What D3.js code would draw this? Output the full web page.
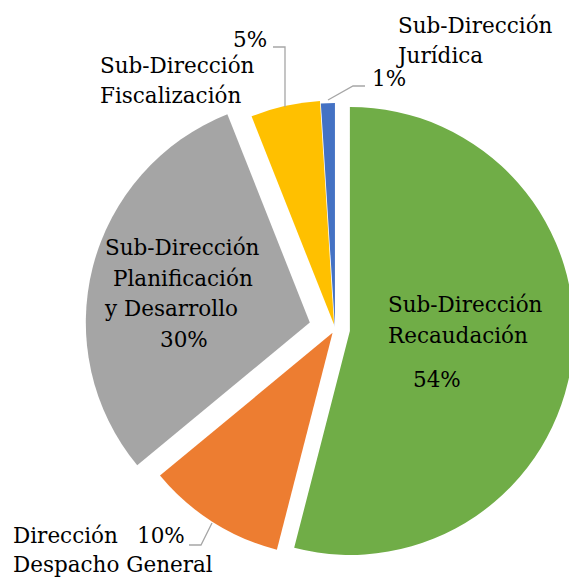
<!DOCTYPE html>
<html>
<head>
<meta charset="utf-8">
<script src="https://cdn.jsdelivr.net/npm/d3@7"></script>
<style>
  html, body { margin: 0; padding: 0; background: #fff; }
  svg { display: block; }
</style>
</head>
<body>
<div id="chart"></div>
<script>
// ---- data ----
const nameLines = [
  ["Sub-Dirección", "Recaudación"],
  ["Dirección", "Despacho General"],
  ["Sub-Dirección", "Planificación", "y Desarrollo"],
  ["Sub-Dirección", "Fiscalización"],
  ["Sub-Dirección", "Jurídica"]
];
const categories = nameLines.map(l => l.join(" "));
const values = [54, 10, 30, 5, 1];

// ---- styling / layout ----
const colors = ["#70AD47", "#ED7D31", "#A5A5A5", "#FFC000", "#4472C4"];
const explode = [15, 4.5, 26, 4.5, 2];
const labelLayout = [
  { lines: [[388, 312], [388, 343]], pct: [413, 387], leader: null },
  { lines: [[13, 543], [13, 572]], pct: [137, 543], leader: [[189, 545], [201, 545], [212, 523]] },
  { lines: [[105, 255], [113, 286], [105, 316]], pct: [160, 347], leader: null },
  { lines: [[100, 73], [100, 103]], pct: [233, 47], leader: [[273, 47], [285, 47], [285, 107]] },
  { lines: [[398, 33], [398, 63]], pct: [372, 86], leader: [[328, 100], [353, 86], [365, 86]] }
];
const FONT = "DejaVu Serif";

const W = 569, H = 580;
const cx = 335, cy = 329, R = 224;

const svg = d3.select("#chart").append("svg").attr("width", W).attr("height", H);

const data = categories.map((c, i) => ({ name: c, value: values[i], i }));
const pie = d3.pie().sort(null).value(d => d.value);
const arc = d3.arc().innerRadius(0).outerRadius(R);

const g = svg.append("g").attr("transform", `translate(${cx},${cy})`);
g.selectAll("path.slice")
  .data(pie(data))
  .join("path")
  .attr("class", "slice")
  .attr("fill", d => colors[d.data.i])
  .attr("transform", d => {
    const mid = (d.startAngle + d.endAngle) / 2;
    const e = explode[d.data.i];
    return `translate(${Math.sin(mid) * e},${-Math.cos(mid) * e})`;
  })
  .attr("d", arc);

// leader lines
const line = d3.line();
labelLayout.forEach(l => {
  if (l.leader) {
    svg.append("path")
      .attr("d", line(l.leader))
      .attr("fill", "none")
      .attr("stroke", "#A6A6A6")
      .attr("stroke-width", 1.3);
  }
});

// labels
function addText(x, y, t) {
  svg.append("text")
    .attr("x", x).attr("y", y)
    .attr("font-family", FONT)
    .attr("font-size", 21.5)
    .attr("fill", "#000")
    .text(t);
}
data.forEach((d, i) => {
  const l = labelLayout[i];
  nameLines[i].forEach((t, j) => addText(l.lines[j][0], l.lines[j][1], t));
  addText(l.pct[0], l.pct[1], d.value + "%");
});
</script>
</body>
</html>
